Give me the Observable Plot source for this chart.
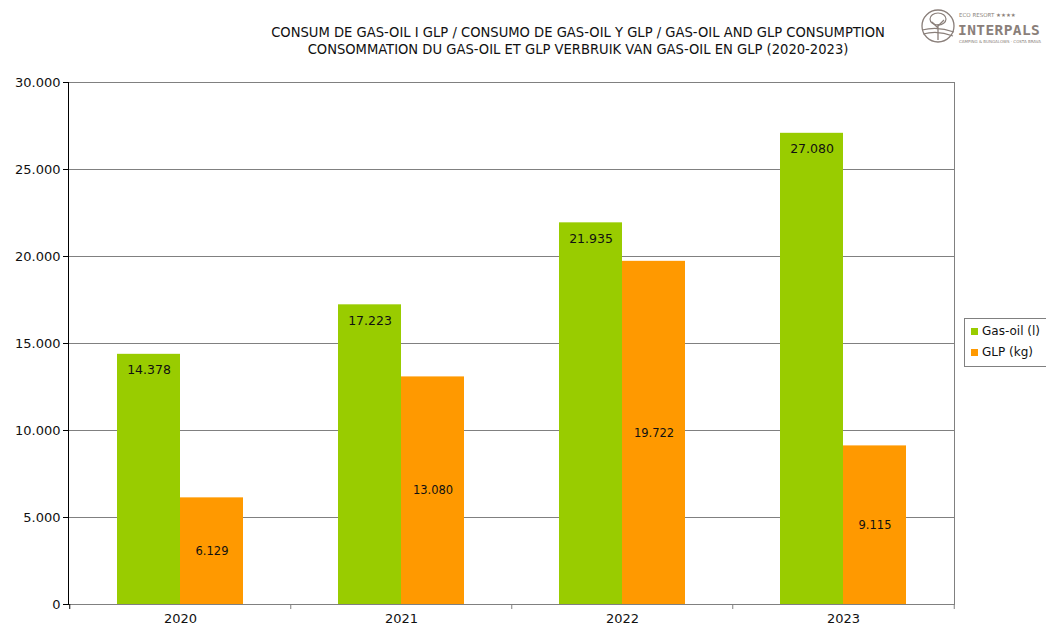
<!DOCTYPE html>
<html>
<head>
<meta charset="utf-8">
<script src="https://cdn.jsdelivr.net/npm/d3@7"></script>
<script src="https://cdn.jsdelivr.net/npm/@observablehq/plot@0.6"></script>
<style>
  html, body { margin: 0; padding: 0; background: #fff; }
  #wrap { position: relative; width: 1046px; height: 629px; overflow: hidden; font-family: "DejaVu Sans", sans-serif; }
  #title { position: absolute; left: 178px; width: 800px; top: 23px; text-align: center; font-family: "DejaVu Sans Condensed", "DejaVu Sans", sans-serif; font-size: 14.6px; line-height: 17px; color: #111; }
  #legend { position: absolute; left: 964px; top: 318px; width: 100px; height: 49px; border: 1px solid #808080; box-sizing: border-box; font-size: 12px; color: #111; }
  .li { position: absolute; left: 6px; display: flex; align-items: center; }
  .sw { width: 7px; height: 7px; margin-right: 4px; }
  #logo { position: absolute; left: 918px; top: 6px; }
</style>
</head>
<body>
<div id="wrap">
  <div id="chart"></div>
  <div id="title"></div>
  <div id="legend"></div>
  <svg id="logo" width="128" height="42"></svg>
</div>
<script>
const years = ["2020", "2021", "2022", "2023"];
const gasOil = [14378, 17223, 21935, 27080];
const glp = [6129, 13080, 19722, 9115];
const seriesNames = ["Gas-oil (l)", "GLP (kg)"];
const seriesColors = ["#99CC00", "#FF9900"];
const yTicks = [0, 5000, 10000, 15000, 20000, 25000, 30000];
const titleLines = [
  "CONSUM DE GAS-OIL I GLP / CONSUMO DE GAS-OIL Y GLP / GAS-OIL AND GLP CONSUMPTION",
  "CONSOMMATION DU GAS-OIL ET GLP VERBRUIK VAN GAS-OIL EN GLP (2020-2023)"
];

const data = years.map((y, i) => ({year: y, gas: gasOil[i], glp: glp[i]}));
const fmt = v => v === 0 ? "0" : d3.format(",")(v).replace(/,/g, ".");
const halfStep = 110.75;

const chart = Plot.plot({
  width: 1046,
  height: 629,
  marginTop: 82,
  marginRight: 92,
  marginBottom: 25,
  marginLeft: 68,
  style: {fontFamily: "DejaVu Sans, sans-serif", color: "#111"},
  x: {domain: years, paddingInner: 0.431, paddingOuter: 0.2155, label: null},
  y: {domain: [0, 30000], label: null},
  marks: [
    Plot.gridY(yTicks, {stroke: "#808080", strokeOpacity: 1}),
    Plot.frame({stroke: "#808080"}),
    Plot.barY(data, {x: "year", y: "gas", fill: seriesColors[0], insetRight: 63}),
    Plot.barY(data, {x: "year", y: "glp", fill: seriesColors[1], insetLeft: 63}),
    Plot.text(data, {x: "year", y: "gas", text: d => fmt(d.gas), dx: -31.5, dy: 16, fontSize: 12.5, fill: "#111"}),
    Plot.text(data, {x: "year", y: d => d.glp / 2, text: d => fmt(d.glp), dx: 31.5, fontSize: 11.5, fill: "#111"}),
    // category boundary ticks below the x axis
    Plot.ruleX(years.slice(1), {x: d => d, y1: 0, y2: 0, insetBottom: -5, dx: -halfStep, stroke: "#808080"}),
    Plot.ruleX(years.slice(-1), {x: d => d, y1: 0, y2: 0, insetBottom: -5, dx: halfStep, stroke: "#808080"}),
    Plot.ruleX(years.slice(0, 1), {x: d => d, y1: 0, y2: 0, insetBottom: -5, dx: -halfStep, stroke: "#000"}),
    // black y axis line
    Plot.frame({anchor: "left", stroke: "#000"}),
    Plot.axisY({ticks: yTicks, tickFormat: fmt, tickSize: 5, tickPadding: 3, fontSize: 13, stroke: "#000", label: null}),
    Plot.axisX({tickSize: 0, tickPadding: 9, fontSize: 13, label: null})
  ]
});
document.getElementById("chart").appendChild(chart);

document.getElementById("title").innerHTML = titleLines.join("<br>");

const legend = document.getElementById("legend");
seriesNames.forEach((n, i) => {
  const d = document.createElement("div");
  d.className = "li";
  d.style.top = (5 + i * 21) + "px";
  d.innerHTML = `<span class="sw" style="background:${seriesColors[i]}"></span><span>${n}</span>`;
  legend.appendChild(d);
});

// logo
const logo = d3.select("#logo");
const c = "#8a7f7a";
logo.append("circle").attr("cx", 20).attr("cy", 20).attr("r", 16).attr("fill", "none").attr("stroke", c).attr("stroke-width", 1.3);
logo.append("path").attr("d", "M20 34 L20 18 M20 22 L14 16 M20 20 L26 14").attr("stroke", c).attr("fill", "none").attr("stroke-width", 1.3);
logo.append("ellipse").attr("cx", 20).attr("cy", 13).attr("rx", 8).attr("ry", 6).attr("fill", "none").attr("stroke", c).attr("stroke-width", 1.2);
logo.append("path").attr("d", "M4 24 Q20 20 36 26 M5 28 Q20 24 35 30").attr("stroke", c).attr("fill", "none").attr("stroke-width", 1.1);
logo.append("text").attr("x", 41).attr("y", 11).attr("font-size", 5.5).attr("fill", c).attr("font-family", "DejaVu Sans").text("ECO RESORT  ★★★★");
logo.append("text").attr("x", 40).attr("y", 29).attr("font-size", 14.5).attr("font-weight", "bold").attr("fill", c).attr("font-family", "DejaVu Sans Mono, DejaVu Sans").attr("letter-spacing", "0.4").text("INTERPALS");
logo.append("text").attr("x", 41).attr("y", 37).attr("font-size", 4).attr("fill", c).attr("font-family", "DejaVu Sans").text("CAMPING & BUNGALOWS · COSTA BRAVA");
</script>
</body>
</html>
